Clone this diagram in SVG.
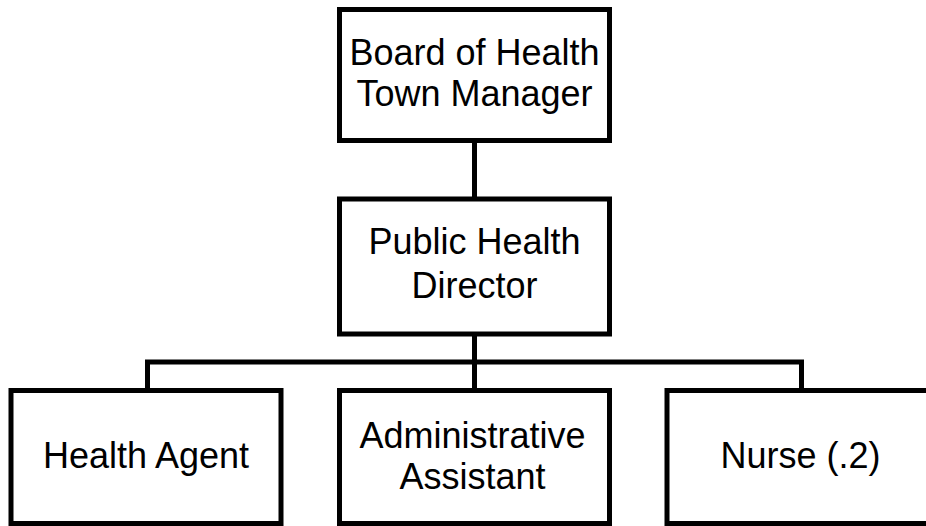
<svg xmlns="http://www.w3.org/2000/svg" width="926" height="526" viewBox="0 0 926 526">
  <style>
    .box { fill: #ffffff; stroke: #000000; stroke-width: 5; }
    .link { fill: none; stroke: #000000; stroke-width: 5; }
    .label { font-family: "Liberation Sans", Arial, sans-serif; font-size: 36px; fill: #000000; text-anchor: middle; }
  </style>

  <!-- connectors -->
  <g id="connectors">
    <line class="link" x1="474.5" y1="140.5" x2="474.5" y2="199"/>
    <line class="link" x1="474.5" y1="334" x2="474.5" y2="390.5"/>
    <polyline class="link" points="147.5,390.5 147.5,362 801.5,362 801.5,390.5"/>
  </g>

  <g id="board-of-health">
    <rect class="box" x="339.5" y="9.5" width="270" height="131"/>
    <text class="label" x="474.5" y="65">Board of Health</text>
    <text class="label" x="474.5" y="106">Town Manager</text>
  </g>

  <g id="public-health-director">
    <rect class="box" x="339.5" y="199" width="270" height="135"/>
    <text class="label" x="474.5" y="254">Public Health</text>
    <text class="label" x="474.5" y="298">Director</text>
  </g>

  <g id="health-agent">
    <rect class="box" x="11" y="390.5" width="270" height="133"/>
    <text class="label" x="146" y="468">Health Agent</text>
  </g>

  <g id="administrative-assistant">
    <rect class="box" x="339.5" y="390.5" width="270" height="133"/>
    <text class="label" x="472.5" y="448">Administrative</text>
    <text class="label" x="472.5" y="489">Assistant</text>
  </g>

  <g id="nurse">
    <rect class="box" x="667" y="390.5" width="270" height="133"/>
    <text class="label" x="800.5" y="468">Nurse (.2)</text>
  </g>
</svg>
